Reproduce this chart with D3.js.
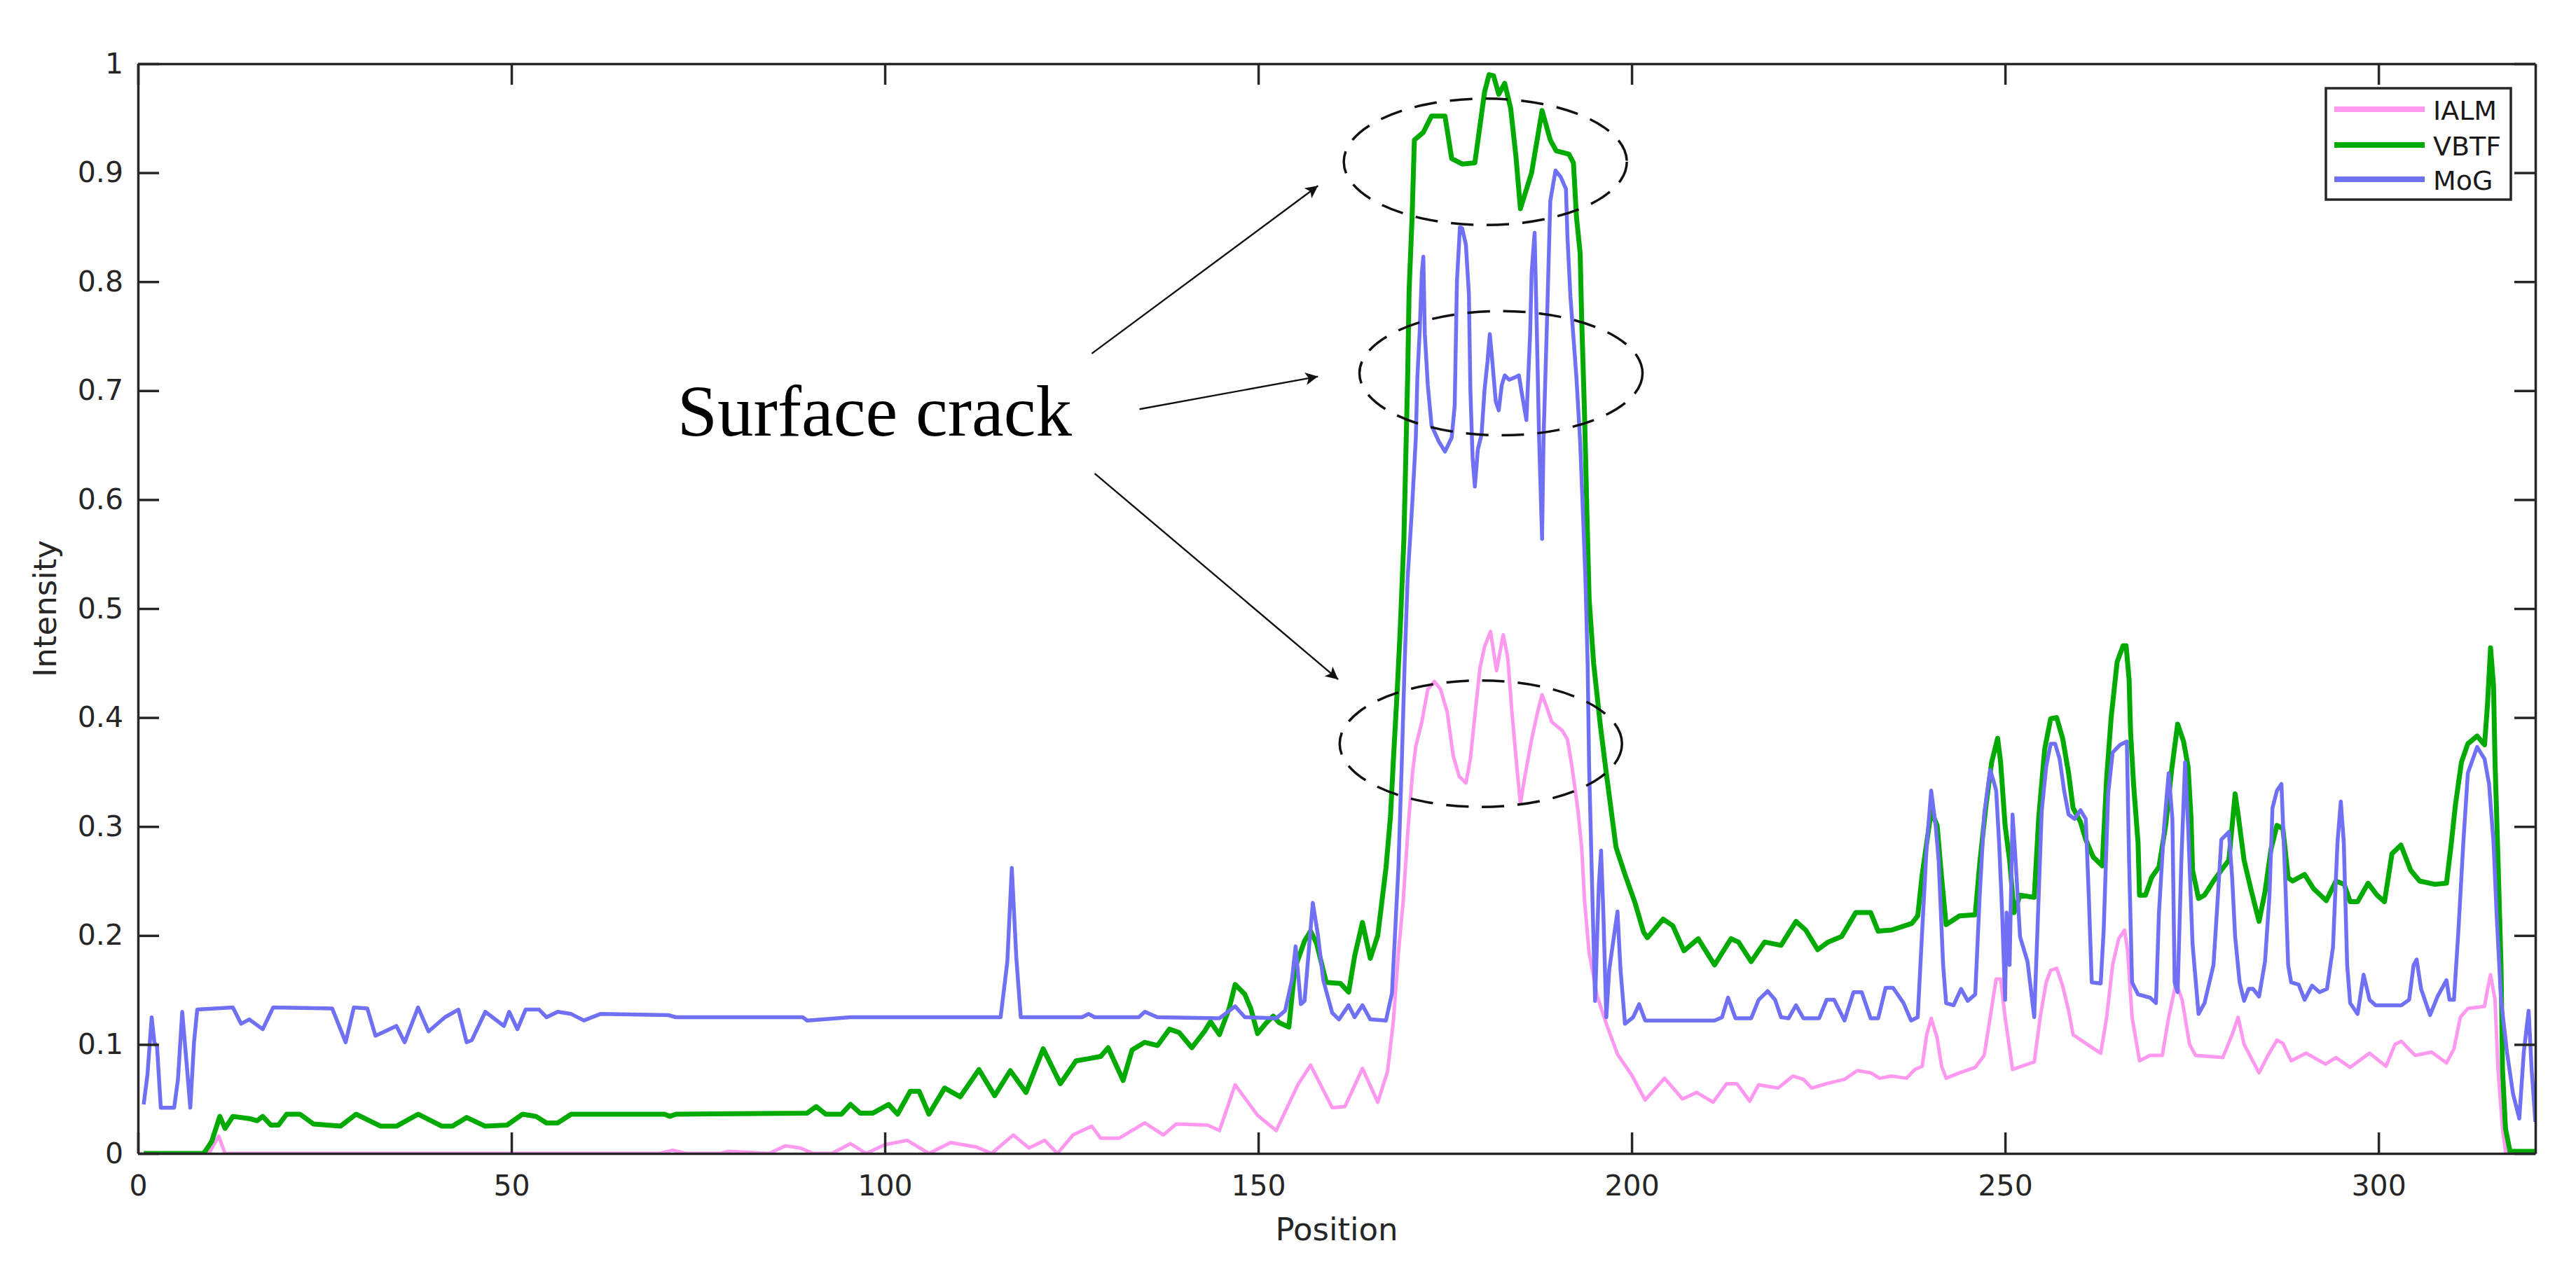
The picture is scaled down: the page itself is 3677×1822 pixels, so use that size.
<!DOCTYPE html>
<html>
<head>
<meta charset="utf-8">
<script src="https://cdn.jsdelivr.net/npm/d3@7"></script>
<style>
  html, body { margin: 0; padding: 0; background: #ffffff; }
  svg { display: block; }
</style>
</head>
<body>
<svg id="chart" width="3677" height="1822"></svg>
<script>
// ---------------- DATA ----------------
const seriesNames = ["IALM", "VBTF", "MoG"];
const xTicks = [0, 50, 100, 150, 200, 250, 300];
const yTicks = [0, 0.1, 0.2, 0.3, 0.4, 0.5, 0.6, 0.7, 0.8, 0.9, 1];
const yTickLabels = ["0", "0.1", "0.2", "0.3", "0.4", "0.5", "0.6", "0.7", "0.8", "0.9", "1"];
const xLabel = "Position";
const yLabel = "Intensity";
const annotationText = "Surface crack";

// IALM  [position, intensity]
const ialm = [
  [0.76,0],[9.5,0],[10.8,0.016],[11.65,0],[69.8,0],[71.6,0.003],[73.4,0],[78,0],[79.1,0.002],[84.5,0],
  [86.7,0.007],[88.7,0.005],[90.4,0],[92.9,0],[95.4,0.009],[97.5,0],[100,0.008],[103,0.012],[105.9,0],
  [108.8,0.01],[112.2,0.006],[114.3,0],[117.2,0.017],[119.3,0.005],[121.4,0.012],[123.1,0],[125.2,0.017],
  [127.7,0.025],[128.9,0.014],[131.4,0.014],[134.8,0.028],[137.3,0.017],[139,0.027],[143.2,0.026],
  [144.8,0.021],[146.9,0.063],[149.9,0.035],[152.4,0.021],[155.3,0.063],[157,0.081],[159.9,0.042],
  [161.6,0.043],[163.95,0.078],[166,0.047],[167.3,0.075],[168.1,0.122],[168.76,0.184],[169.4,0.231],
  [170,0.293],[170.65,0.349],[171.1,0.374],[171.9,0.396],[172.7,0.426],[173.6,0.433],[174.4,0.426],
  [175.3,0.405],[176.1,0.365],[176.9,0.346],[177.8,0.34],[178.4,0.362],[179,0.402],[179.7,0.446],
  [180.3,0.465],[181.1,0.479],[181.9,0.443],[182.8,0.476],[183.4,0.455],[184,0.402],[184.7,0.349],
  [185.1,0.321],[185.7,0.346],[186.6,0.38],[187.4,0.405],[188,0.421],[188.7,0.408],[189.3,0.396],
  [190.7,0.388],[191.4,0.38],[192,0.355],[192.8,0.315],[193.3,0.281],[193.7,0.231],[194.3,0.184],
  [195.4,0.144],[196.6,0.119],[198.1,0.091],[200,0.072],[201.8,0.049],[204.4,0.069],[206.8,0.05],
  [208.7,0.056],[210.9,0.047],[212.7,0.064],[214.1,0.064],[215.8,0.048],[217,0.063],[219.6,0.06],
  [221.6,0.071],[223,0.068],[224.1,0.06],[226.1,0.064],[228.5,0.068],[230.2,0.076],[232,0.074],
  [233.2,0.069],[234.8,0.071],[236.8,0.069],[237.9,0.077],[238.9,0.08],[239.5,0.109],[240.1,0.124],
  [240.9,0.106],[241.5,0.08],[242.1,0.069],[243.9,0.074],[246,0.079],[247.2,0.09],[248,0.125],
  [248.8,0.16],[249.4,0.16],[250,0.125],[251,0.077],[252.2,0.08],[253.9,0.084],[254.7,0.125],
  [255.5,0.157],[256.1,0.168],[256.9,0.17],[257.7,0.154],[258.5,0.131],[259.1,0.109],[260.8,0.101],
  [262.8,0.092],[263.6,0.125],[264.4,0.173],[265.2,0.197],[266,0.205],[266.4,0.186],[267,0.125],
  [268,0.085],[269.4,0.09],[271.05,0.09],[271.9,0.125],[272.9,0.157],[273.7,0.141],[274.7,0.1],
  [275.5,0.09],[279.15,0.088],[280.4,0.109],[281.2,0.125],[282,0.1],[284,0.074],[285.2,0.09],
  [286.4,0.104],[287.2,0.101],[288.3,0.085],[290.3,0.092],[292.9,0.082],[294.3,0.088],[296.2,0.079],
  [298.8,0.092],[301,0.08],[302.2,0.1],[303.05,0.103],[304.9,0.09],[307.1,0.093],[309.1,0.083],
  [310.1,0.096],[310.95,0.125],[311.96,0.133],[314.2,0.135],[314.6,0.151],[315,0.164],[315.6,0.141],
  [316,0.077],[316.6,0.023],[317,0.002],[321,0.002]
];

// VBTF  [position, intensity]
const vbtf = [
  [0.76,0],[8.8,0],[9.87,0.011],[10.95,0.034],[11.65,0.023],[12.7,0.034],[14.9,0.032],[15.96,0.03],
  [16.7,0.034],[17.8,0.026],[18.8,0.026],[19.9,0.036],[21.7,0.036],[23.5,0.027],[27.1,0.025],
  [29.2,0.036],[32.5,0.025],[34.6,0.025],[37.5,0.036],[40.7,0.025],[42.1,0.025],[44,0.033],
  [46.5,0.025],[49.4,0.026],[51.5,0.036],[53.3,0.034],[54.7,0.028],[56.2,0.028],[58,0.036],
  [70.5,0.036],[71.2,0.034],[72,0.036],[89.6,0.037],[90.8,0.043],[92.1,0.036],[94.2,0.036],
  [95.4,0.045],[96.7,0.037],[98.4,0.037],[100.5,0.045],[101.7,0.036],[103.4,0.057],[104.6,0.057],
  [105.9,0.036],[108,0.06],[110.1,0.052],[112.6,0.077],[114.7,0.053],[116.8,0.076],[118.9,0.056],
  [121.2,0.096],[123.5,0.064],[125.6,0.085],[127.3,0.087],[128.9,0.089],[129.9,0.097],[131.9,0.067],
  [133.1,0.095],[134.8,0.102],[136.5,0.099],[138.1,0.114],[139.4,0.111],[141.1,0.097],[142.8,0.112],
  [143.6,0.121],[144.8,0.109],[146.1,0.133],[146.9,0.155],[148.2,0.146],[149,0.133],[149.9,0.11],
  [151.1,0.12],[152,0.126],[152.8,0.12],[154.1,0.116],[154.9,0.17],[156.2,0.195],[157,0.204],
  [157.8,0.193],[159.1,0.157],[161,0.156],[162.1,0.148],[162.9,0.181],[163.95,0.212],[165,0.179],
  [166,0.2],[167.1,0.262],[167.7,0.309],[168.1,0.362],[168.6,0.424],[169,0.48],[169.5,0.564],
  [170,0.712],[170.2,0.793],[170.6,0.86],[170.9,0.93],[172.1,0.937],[173.2,0.952],[175,0.952],
  [175.9,0.913],[177.3,0.908],[179,0.909],[180.3,0.974],[180.9,0.99],[181.5,0.989],[182.2,0.972],
  [183,0.982],[183.8,0.959],[184.5,0.915],[185.1,0.867],[186.6,0.9],[188,0.957],[189.1,0.93],
  [189.9,0.92],[191.6,0.917],[192.2,0.909],[192.6,0.86],[193.1,0.826],[193.3,0.767],[193.7,0.675],
  [194,0.59],[194.3,0.509],[194.9,0.45],[195.8,0.393],[196.6,0.349],[197.9,0.281],[199.1,0.256],
  [200.4,0.231],[201.6,0.203],[202.1,0.198],[204.2,0.215],[205.5,0.209],[207,0.186],[208.9,0.197],
  [211.1,0.173],[213.3,0.197],[214.3,0.194],[216,0.176],[217.8,0.194],[220,0.191],[222,0.213],
  [223.3,0.205],[224.9,0.187],[226.3,0.194],[228.1,0.199],[230,0.221],[232,0.221],[233,0.204],
  [234.8,0.205],[237.5,0.211],[238.3,0.218],[238.9,0.256],[239.5,0.285],[240.1,0.314],[240.9,0.301],
  [241.5,0.253],[242.1,0.21],[243.9,0.218],[246,0.219],[246.6,0.266],[247.4,0.317],[248.2,0.359],
  [249,0.381],[249.4,0.359],[250,0.301],[250.6,0.269],[251.2,0.221],[252,0.237],[253.9,0.235],
  [254.5,0.308],[255.3,0.371],[256.1,0.399],[256.9,0.4],[257.7,0.381],[258.5,0.349],[259.1,0.317],
  [260.1,0.304],[260.8,0.288],[261.8,0.272],[263,0.264],[263.6,0.345],[264.2,0.4],[265,0.451],
  [265.8,0.466],[266.2,0.466],[266.6,0.435],[266.8,0.387],[267.2,0.339],[267.8,0.285],[268,0.237],
  [268.8,0.237],[269.6,0.253],[270.6,0.263],[271.5,0.301],[272.3,0.352],[273.1,0.394],[273.9,0.378],
  [274.5,0.355],[274.9,0.307],[275.1,0.26],[275.9,0.234],[276.7,0.237],[277.9,0.25],[278.95,0.26],
  [279.96,0.269],[280.8,0.33],[281.2,0.311],[282,0.269],[283,0.24],[284,0.213],[284.8,0.24],
  [285.6,0.279],[286.4,0.301],[287.2,0.298],[287.9,0.253],[288.5,0.25],[290.1,0.256],[291.3,0.243],
  [293,0.232],[294.3,0.25],[295.4,0.247],[296.2,0.231],[297.2,0.231],[298.6,0.248],[299.8,0.237],
  [300.8,0.231],[301.8,0.275],[303,0.283],[304.3,0.26],[305.5,0.25],[307.5,0.247],[309.1,0.248],
  [309.7,0.282],[310.3,0.32],[311.1,0.359],[311.96,0.376],[313.2,0.383],[314.2,0.375],[314.6,0.413],
  [315,0.464],[315.4,0.429],[315.6,0.359],[316,0.269],[316.4,0.173],[316.6,0.077],[317,0.023],
  [317.6,0.002],[321,0.002]
];

// MoG  [position, intensity]
const mog = [
  [0.76,0.045],[1.26,0.072],[1.83,0.125],[2.19,0.102],[2.55,0.098],[3.05,0.042],[4.84,0.042],
  [5.35,0.068],[5.92,0.13],[6.5,0.083],[7,0.042],[7.5,0.102],[7.93,0.132],[12.7,0.134],[13.8,0.119],
  [14.9,0.123],[16.7,0.114],[18.1,0.134],[26,0.133],[27.8,0.102],[28.9,0.134],[30.7,0.133],
  [31.8,0.108],[34.6,0.117],[35.7,0.102],[37.5,0.134],[38.9,0.112],[41.1,0.125],[42.9,0.132],
  [44,0.102],[44.7,0.104],[46.5,0.13],[49,0.117],[49.7,0.13],[50.8,0.114],[51.9,0.132],[53.7,0.132],
  [54.7,0.125],[56.2,0.13],[58,0.128],[59.7,0.122],[61.9,0.128],[71,0.127],[72,0.125],[89,0.125],
  [89.6,0.122],[95.4,0.125],[115.5,0.125],[116.4,0.176],[117,0.262],[117.6,0.18],[118.2,0.125],
  [126.4,0.125],[127.3,0.128],[128.1,0.125],[134,0.125],[134.8,0.13],[136.5,0.125],[144.8,0.124],
  [146.9,0.135],[148.2,0.125],[152.4,0.124],[153.6,0.131],[154.5,0.159],[155,0.19],[155.7,0.137],
  [156.2,0.14],[157.3,0.23],[158,0.2],[158.7,0.159],[159.9,0.129],[160.8,0.123],[162.1,0.136],
  [162.9,0.125],[163.95,0.136],[165,0.123],[167.1,0.122],[167.9,0.147],[168.3,0.2],[168.76,0.262],
  [169.2,0.355],[169.6,0.45],[170,0.528],[170.6,0.594],[171.1,0.657],[171.3,0.712],[171.6,0.752],
  [171.9,0.808],[172.1,0.823],[172.3,0.752],[172.7,0.705],[173.2,0.668],[174.2,0.653],[175,0.644],
  [175.9,0.657],[176.3,0.686],[176.6,0.8],[177,0.85],[177.3,0.849],[177.8,0.834],[178.2,0.789],
  [178.4,0.701],[178.7,0.638],[179,0.612],[179.4,0.646],[179.9,0.66],[180.3,0.701],[180.7,0.727],
  [181,0.752],[181.3,0.73],[181.8,0.69],[182.2,0.682],[182.6,0.705],[183,0.714],[183.6,0.71],
  [184.3,0.712],[184.9,0.714],[185.3,0.697],[185.9,0.673],[186.4,0.752],[186.6,0.808],[187,0.845],
  [187.2,0.786],[187.6,0.657],[188,0.564],[188.2,0.657],[188.6,0.749],[189.1,0.874],[189.8,0.902],
  [190.5,0.896],[191.2,0.885],[191.4,0.841],[191.8,0.786],[192.2,0.749],[192.6,0.712],[193.1,0.653],
  [193.5,0.583],[193.8,0.528],[194.1,0.45],[194.3,0.355],[194.7,0.246],[195.1,0.14],[195.6,0.246],
  [195.9,0.278],[196.2,0.222],[196.6,0.125],[197,0.169],[197.7,0.203],[198.1,0.222],[198.5,0.169],
  [199.1,0.119],[200.2,0.125],[201,0.137],[201.8,0.122],[211.1,0.122],[212.1,0.125],[212.9,0.143],
  [213.9,0.124],[216,0.124],[217,0.141],[218.2,0.149],[219.2,0.141],[220,0.125],[221,0.124],
  [222,0.136],[223,0.124],[225.1,0.124],[226.1,0.141],[227.1,0.141],[228.5,0.122],[229.7,0.148],
  [230.8,0.148],[232,0.124],[233,0.124],[234,0.152],[235,0.152],[236.4,0.138],[237.4,0.122],
  [238.3,0.125],[238.9,0.205],[239.5,0.282],[240.1,0.333],[240.7,0.301],[241.1,0.269],[241.7,0.173],
  [242.1,0.138],[243.1,0.136],[244.1,0.151],[245,0.14],[246,0.146],[246.6,0.237],[247.2,0.311],
  [248,0.352],[248.4,0.343],[248.8,0.333],[249.2,0.285],[249.6,0.221],[250,0.141],[250.2,0.221],
  [250.6,0.173],[251,0.311],[251.4,0.269],[252,0.199],[253,0.176],[253.9,0.125],[254.5,0.237],
  [254.9,0.314],[255.5,0.355],[256.1,0.376],[256.7,0.376],[257.3,0.362],[257.9,0.333],[258.5,0.311],
  [259.3,0.307],[260.1,0.315],[260.8,0.307],[261.2,0.237],[261.6,0.157],[262.8,0.156],[263.2,0.205],
  [263.8,0.33],[264.4,0.368],[265.4,0.375],[266.3,0.378],[266.6,0.269],[267,0.157],[267.8,0.146],
  [269.4,0.143],[270.2,0.138],[270.6,0.221],[271.3,0.301],[271.9,0.349],[272.4,0.307],[272.7,0.157],
  [273.1,0.148],[273.6,0.269],[274.1,0.359],[274.5,0.301],[275.1,0.192],[275.9,0.128],[276.7,0.138],
  [277.9,0.173],[278.5,0.237],[278.95,0.288],[279.96,0.295],[280.4,0.253],[280.8,0.199],[281.4,0.157],
  [282,0.14],[282.6,0.151],[283.2,0.151],[284,0.144],[284.8,0.176],[285.4,0.237],[285.8,0.317],
  [286.4,0.333],[287,0.339],[287.5,0.253],[287.9,0.173],[288.3,0.157],[289.3,0.155],[290.1,0.141],
  [291.1,0.154],[292.1,0.148],[293.1,0.151],[293.9,0.189],[294.5,0.285],[294.95,0.323],[295.35,0.285],
  [295.8,0.173],[296.2,0.138],[297.2,0.128],[298,0.164],[298.8,0.141],[299.6,0.136],[303.05,0.136],
  [304.1,0.141],[304.7,0.173],[305.1,0.178],[305.7,0.151],[306.9,0.127],[307.9,0.144],[309.1,0.159],
  [309.5,0.141],[310.1,0.141],[310.7,0.205],[311.35,0.285],[311.96,0.349],[313.2,0.373],[314.2,0.362],
  [314.8,0.339],[315.4,0.285],[315.8,0.221],[316.4,0.141],[317.2,0.093],[318,0.055],[318.85,0.032],
  [319.45,0.093],[320.1,0.131],[320.5,0.077],[321,0.029]
];

// Annotation ellipses: [centre position, centre intensity, half-width (position), half-height (intensity)]
const ellipses = [
  [180.4, 0.910, 18.95, 0.058],
  [182.5, 0.716, 18.95, 0.057],
  [179.8, 0.376, 18.90, 0.058]
];
// Arrows: [from position, from intensity, to position, to intensity]
const arrows = [
  [127.7, 0.734, 158.0, 0.888],
  [134.1, 0.683, 158.0, 0.713],
  [128.1, 0.624, 160.7, 0.435]
];
const annotationAnchor = [72.2, 0.659];

// ---------------- STYLE / LAYOUT ----------------
const colors = { IALM: "#ff99f0", VBTF: "#00aa00", MoG: "#7070f5" };
const widths = { IALM: 5, VBTF: 7, MoG: 5.5 };
const axisColor = "#262626";
const box = { left: 197, right: 3619, top: 91, bottom: 1647 };

const svg = d3.select("#chart");
svg.append("rect").attr("width", 3677).attr("height", 1822).attr("fill", "#ffffff");

const x = d3.scaleLinear().domain([0, 321]).range([box.left, box.right]);
const y = d3.scaleLinear().domain([0, 1]).range([box.bottom, box.top]);

svg.append("defs").append("clipPath").attr("id", "plotclip")
  .append("rect")
  .attr("x", box.left).attr("y", box.top)
  .attr("width", box.right - box.left).attr("height", box.bottom - box.top);

// ---------------- LINES ----------------
const line = d3.line().x(d => x(d[0])).y(d => y(d[1]));
const seriesData = { IALM: ialm, VBTF: vbtf, MoG: mog };
const gLines = svg.append("g").attr("clip-path", "url(#plotclip)");
seriesNames.forEach(name => {
  gLines.append("path")
    .datum(seriesData[name])
    .attr("d", line)
    .attr("fill", "none")
    .attr("stroke", colors[name])
    .attr("stroke-width", widths[name])
    .attr("stroke-linejoin", "round")
    .attr("stroke-linecap", "butt");
});

// ---------------- AXES ----------------
const tickFont = "DejaVu Sans, sans-serif";
function styleAxis(g) {
  g.selectAll("path.domain").attr("stroke", axisColor).attr("stroke-width", 3.5);
  g.selectAll(".tick line").attr("stroke", axisColor).attr("stroke-width", 3.5);
  g.selectAll(".tick text").attr("fill", axisColor).attr("font-size", 41).attr("font-family", tickFont);
}
const fmtY = d => yTickLabels[yTicks.indexOf(d)];

svg.append("g").attr("transform", `translate(0,${box.bottom})`)
  .call(d3.axisBottom(x).tickValues(xTicks).tickFormat(d3.format("d"))
        .tickSizeInner(-30).tickSizeOuter(0).tickPadding(31))
  .call(styleAxis);
svg.append("g").attr("transform", `translate(0,${box.top})`)
  .call(d3.axisTop(x).tickValues(xTicks).tickFormat("")
        .tickSizeInner(-30).tickSizeOuter(0))
  .call(styleAxis);
svg.append("g").attr("transform", `translate(${box.left},0)`)
  .call(d3.axisLeft(y).tickValues(yTicks).tickFormat(fmtY)
        .tickSizeInner(-30).tickSizeOuter(0).tickPadding(21))
  .call(styleAxis);
svg.append("g").attr("transform", `translate(${box.right},0)`)
  .call(d3.axisRight(y).tickValues(yTicks).tickFormat("")
        .tickSizeInner(-30).tickSizeOuter(0))
  .call(styleAxis);

// Axis labels
svg.append("text")
  .attr("x", (box.left + box.right) / 2).attr("y", 1771)
  .attr("text-anchor", "middle")
  .attr("font-family", tickFont).attr("font-size", 45).attr("fill", axisColor)
  .text(xLabel);
svg.append("text")
  .attr("transform", `translate(80,${(box.top + box.bottom) / 2}) rotate(-90)`)
  .attr("text-anchor", "middle")
  .attr("font-family", tickFont).attr("font-size", 45).attr("fill", axisColor)
  .text(yLabel);

// ---------------- ANNOTATIONS ----------------
const ann = svg.append("g");
ellipses.forEach(e => {
  const cx = x(e[0]), cy = y(e[1]);
  const rx = x(e[0] + e[2]) - cx, ry = cy - y(e[1] + e[3]);
  ann.append("ellipse")
    .attr("cx", cx).attr("cy", cy).attr("rx", rx).attr("ry", ry)
    .attr("fill", "none").attr("stroke", "#111").attr("stroke-width", 3.5)
    .attr("stroke-dasharray", "32 19");
});

svg.select("defs").append("marker")
  .attr("id", "arrowhead")
  .attr("viewBox", "0 0 10 10").attr("refX", 10).attr("refY", 5)
  .attr("markerUnits", "userSpaceOnUse")
  .attr("markerWidth", 26).attr("markerHeight", 18)
  .attr("orient", "auto")
  .append("path").attr("d", "M0,0 L10,5 L0,10 L2.5,5 Z").attr("fill", "#111");

arrows.forEach(a => {
  ann.append("line")
    .attr("x1", x(a[0])).attr("y1", y(a[1]))
    .attr("x2", x(a[2])).attr("y2", y(a[3]))
    .attr("stroke", "#111").attr("stroke-width", 2.4)
    .attr("marker-end", "url(#arrowhead)");
});

ann.append("text")
  .attr("x", x(annotationAnchor[0])).attr("y", y(annotationAnchor[1]))
  .attr("font-family", "Liberation Serif, 'Times New Roman', serif")
  .attr("font-size", 103).attr("fill", "#000")
  .text(annotationText);

// ---------------- LEGEND ----------------
const leg = svg.append("g").attr("transform", "translate(3320,126)");
leg.append("rect").attr("width", 264).attr("height", 159)
  .attr("fill", "#ffffff").attr("stroke", axisColor).attr("stroke-width", 3.5);
const legRowsY = [30, 81, 130];
seriesNames.forEach((name, i) => {
  leg.append("line")
    .attr("x1", 12).attr("x2", 141)
    .attr("y1", legRowsY[i]).attr("y2", legRowsY[i])
    .attr("stroke", colors[name]).attr("stroke-width", 8);
  leg.append("text")
    .attr("x", 153).attr("y", legRowsY[i] + 15)
    .attr("font-family", tickFont).attr("font-size", 38).attr("fill", "#1a1a1a")
    .text(name);
});
</script>
</body>
</html>
